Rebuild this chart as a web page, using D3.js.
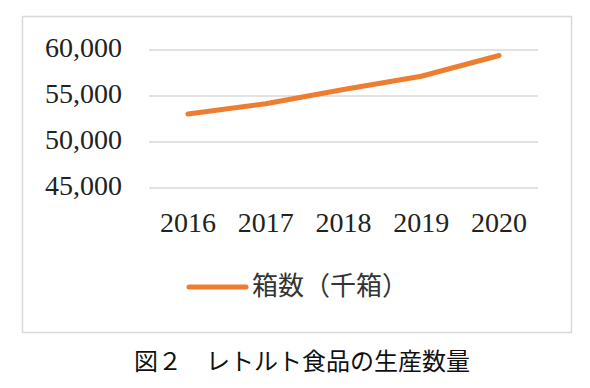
<!DOCTYPE html>
<html>
<head>
<meta charset="utf-8">
<script src="https://cdn.jsdelivr.net/npm/d3@7"></script>
<style>
  body { margin: 0; background: #fff; }
</style>
</head>
<body>
<div id="vis"></div>
<script>
// data
const YEARS = ["2016", "2017", "2018", "2019", "2020"];
const BOXES = [53050, 54150, 55700, 57150, 59400];
const Y_TICKS = [45000, 50000, 55000, 60000];
const SERIES_NAME = "箱数（千箱）";
const CAPTION = "図２　レトルト食品の生産数量";

// frame constants
const FRAME_WIDTH = 590;
const FRAME_HEIGHT = 388;
const PLOT = {left: 149, right: 538, top: 50, bottom: 188};
const ORANGE = "#ED7D31";
const GRID = "#d9d9d9";

const FRAME = d3.select("#vis")
                .append("svg")
                  .attr("width", FRAME_WIDTH)
                  .attr("height", FRAME_HEIGHT);

// chart border
FRAME.append("rect")
      .attr("x", 22.5)
      .attr("y", 16.5)
      .attr("width", 549)
      .attr("height", 316)
      .attr("fill", "none")
      .attr("stroke", GRID)
      .attr("stroke-width", 1.5);

// scales
const X_SCALE = d3.scaleBand()
                  .domain(YEARS)
                  .range([PLOT.left, PLOT.right]);
const Y_SCALE = d3.scaleLinear()
                  .domain([45000, 60000])
                  .range([PLOT.bottom, PLOT.top]);

// gridlines
FRAME.append("g")
      .selectAll("line")
      .data(Y_TICKS)
      .enter()
      .append("line")
        .attr("x1", PLOT.left)
        .attr("x2", PLOT.right)
        .attr("y1", (d) => { return Y_SCALE(d); })
        .attr("y2", (d) => { return Y_SCALE(d); })
        .attr("stroke", GRID)
        .attr("stroke-width", 1.5);

// y axis labels
const yAxis = FRAME.append("g")
      .attr("transform", "translate(122,0)")
      .call(d3.axisLeft(Y_SCALE).tickValues(Y_TICKS).tickSize(0).tickPadding(0)
              .tickFormat(d3.format(",")));
yAxis.select(".domain").remove();
yAxis.selectAll("text")
      .attr("font-family", "'Liberation Serif', serif")
      .attr("font-size", "28px")
      .attr("fill", "#222")
      .attr("dy", "0.22em");

// x axis labels
const xAxis = FRAME.append("g")
      .attr("transform", "translate(0,208)")
      .call(d3.axisBottom(X_SCALE).tickSize(0).tickPadding(0));
xAxis.select(".domain").remove();
xAxis.selectAll("text")
      .attr("font-family", "'Liberation Serif', serif")
      .attr("font-size", "28px")
      .attr("fill", "#222")
      .attr("dy", "0.85em");

// the line
const line = d3.line()
      .x((d, i) => { return X_SCALE(YEARS[i]) + X_SCALE.bandwidth() / 2; })
      .y((d) => { return Y_SCALE(d); });

FRAME.append("path")
      .datum(BOXES)
      .attr("d", line)
      .attr("fill", "none")
      .attr("stroke", ORANGE)
      .attr("stroke-width", 5)
      .attr("stroke-linecap", "round")
      .attr("stroke-linejoin", "round");

// legend
FRAME.append("line")
      .attr("x1", 189)
      .attr("x2", 246)
      .attr("y1", 287)
      .attr("y2", 287)
      .attr("stroke", ORANGE)
      .attr("stroke-width", 5)
      .attr("stroke-linecap", "round");

FRAME.append("text")
      .attr("x", 252)
      .attr("y", 295)
      .attr("font-family", "'Noto Sans CJK JP', sans-serif")
      .attr("font-size", "26px")
      .attr("fill", "#333")
      .text(SERIES_NAME);

// caption below the box
FRAME.append("text")
      .attr("x", 134)
      .attr("y", 370)
      .attr("font-family", "'Noto Sans CJK JP', sans-serif")
      .attr("font-size", "24px")
      .attr("fill", "#111")
      .text(CAPTION);
</script>
</body>
</html>
